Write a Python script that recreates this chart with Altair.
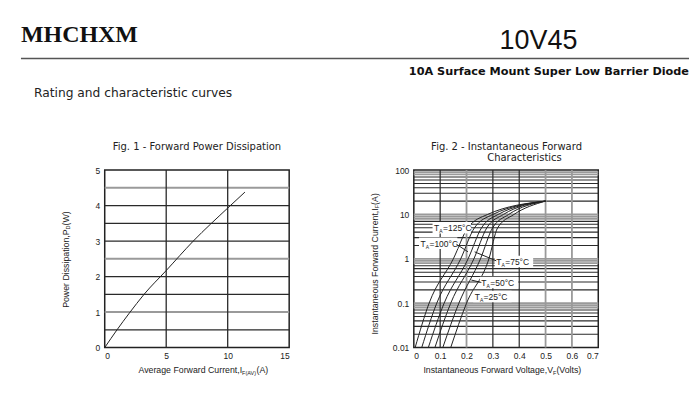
import altair as alt
import pandas as pd

# ---------------- Header texts ----------------
logo_text = "MHCHXM"
part_text = "10V45"
subtitle_text = "10A Surface Mount Super Low Barrier Diode"
section_text = "Rating and characteristic curves"

# ---------------- Fig. 1 data ----------------
f1_current = [0, 1, 2, 3.2, 5, 7.2, 10, 11.4]
f1_power = [0, 0.5, 0.97, 1.5, 2.17, 3.0, 3.93, 4.38]
f1_hgrid = [0.5, 1, 1.5, 2, 2.5, 3, 3.5, 4, 4.5]
f1_hgrid_gray = [False, True, False, False, True, False, False, False, True]
f1_vgrid = [5, 10]
f1_xticks = [0, 5, 10, 15]
f1_yticks = [0, 1, 2, 3, 4, 5]

# ---------------- Fig. 2 data ----------------
f2_levels = [0.01, 0.1, 1, 5, 10, 20]
f2_curves = [
    [0.005, 0.058, 0.150, 0.205, 0.280, 0.50],
    [0.030, 0.087, 0.178, 0.230, 0.300, 0.50],
    [0.055, 0.115, 0.206, 0.257, 0.320, 0.50],
    [0.080, 0.140, 0.228, 0.277, 0.340, 0.50],
    [0.110, 0.171, 0.253, 0.299, 0.360, 0.50],
    [0.140, 0.200, 0.285, 0.318, 0.380, 0.50],
]
f2_vgrid = [0.1, 0.2, 0.3, 0.4, 0.5, 0.6]
f2_vgrid_gray = [False, True, False, False, True, True]
f2_mult = [2, 3, 4, 5, 6, 7, 8, 9, 10]
f2_mult_gray = [8, 9, 10]
f2_decades = [0.01, 0.1, 1, 10]
f2_xticks = [0, 0.1, 0.2, 0.3, 0.4, 0.5, 0.6, 0.7]
f2_yticks = [0.01, 0.1, 1, 10, 100]
f2_labels = ["=125°C", "=100°C", "=75°C", "=50°C", "=25°C"]

W, H = 185, 178
FONT = "Liberation Sans"
WIDE = "DejaVu Sans"
DARK = "#2a2a2a"
GRAY = "#9a9a9a"


def txt(s, x, y, size=9.0, weight="normal", align="left", baseline="alphabetic",
        angle=0, color="#222222", font=FONT):
    return alt.Chart(pd.DataFrame({"t": [s]})).mark_text(
        align=align, baseline=baseline, font=font, fontSize=size,
        fontWeight=weight, angle=angle, color=color
    ).encode(x=alt.value(x), y=alt.value(y), text="t:N")


def box(x1, x2, y1, y2, fill="white", opacity=1.0):
    return alt.Chart(pd.DataFrame({"a": [0]})).mark_rect(
        fill=fill, opacity=opacity
    ).encode(x=alt.value(x1), x2=alt.value(x2), y=alt.value(y1), y2=alt.value(y2))


def seg(x1, y1, x2, y2, color="#222222", width=1.0):
    return alt.Chart(pd.DataFrame({"a": [0]})).mark_rule(
        color=color, strokeWidth=width
    ).encode(x=alt.value(x1), x2=alt.value(x2), y=alt.value(y1), y2=alt.value(y2))


# ---------------- Fig. 1 ----------------
x1s = alt.Scale(domain=[0, 15], nice=False, zero=False)
y1s = alt.Scale(domain=[0, 5], nice=False, zero=False)
x1a = alt.Axis(values=f1_xticks, title="", labelPadding=4)
y1a = alt.Axis(values=f1_yticks, title="", labelPadding=5)

f1_h = pd.DataFrame({
    "v": f1_hgrid,
    "c": [GRAY if g else DARK for g in f1_hgrid_gray],
    "w": [2.0 if g else 1.2 for g in f1_hgrid_gray],
})
f1_v = pd.DataFrame({"v": f1_vgrid})
f1_curve = pd.DataFrame({"i": f1_current, "p": f1_power})

f1_hrules = alt.Chart(f1_h).mark_rule().encode(
    y=alt.Y("v:Q", scale=y1s, axis=y1a),
    color=alt.Color("c:N", scale=None),
    strokeWidth=alt.StrokeWidth("w:Q", scale=None),
)
f1_vrules = alt.Chart(f1_v).mark_rule(color=DARK, strokeWidth=1.3).encode(
    x=alt.X("v:Q", scale=x1s, axis=x1a),
)
f1_line = alt.Chart(f1_curve).mark_line(
    color="#222222", strokeWidth=1, interpolate="monotone"
).encode(
    x=alt.X("i:Q", scale=x1s, axis=x1a),
    y=alt.Y("p:Q", scale=y1s, axis=y1a),
)

fig1 = alt.layer(
    box(-96, 588, -161, 222, fill="white", opacity=0),
    f1_hrules, f1_vrules, f1_line,
    # header
    txt(logo_text, -84, -128, size=24, weight="bold", font="Liberation Serif", color="#111111"),
    txt(part_text, 396, -121, size=27, color="#111111"),
    seg(-84, -112, 586, -112, color="#555555", width=1.5),
    txt(subtitle_text, 586, -95, size=11.3, weight="bold", align="right", color="#111111", font=WIDE),
    txt(section_text, -71, -73, size=12.3, color="#222222", font=WIDE),
    # title
    txt("Fig. 1 - Forward Power Dissipation", 92.5, -20, size=10, align="center", font=WIDE),
    # x title
    txt("Average Forward Current,I", 137.8, 204, size=8.8, align="right"),
    txt("F(AV)", 137.8, 206, size=5.5, align="left"),
    txt(" (A)", 152.2, 204, size=8.8, align="left"),
    # y title
    txt("Power Dissipation,P", -39, 59.5, size=8.8, align="right", baseline="middle", angle=270),
    txt("D", -36.5, 59.5, size=5.5, align="left", baseline="middle", angle=270),
    txt(" (W)", -39, 55.5, size=8.8, align="left", baseline="middle", angle=270),
).properties(width=W, height=H)

# ---------------- Fig. 2 ----------------
x2s = alt.Scale(domain=[0, 0.7], nice=False, zero=False)
y2s = alt.Scale(type="log", domain=[0.01, 100], nice=False)
x2a = alt.Axis(values=f2_xticks, format=".1~f", title="", labelPadding=4)
y2a = alt.Axis(values=f2_yticks, format="~g", title="", labelPadding=5)

h_vals, h_cols, h_w = [], [], []
for d in f2_decades:
    for m in f2_mult:
        v = d * m
        if v >= 100:
            continue
        gray = m in f2_mult_gray
        h_vals.append(v)
        h_cols.append(GRAY if gray else DARK)
        h_w.append(1.8 if gray else 1.1)
f2_h = pd.DataFrame({"v": h_vals, "c": h_cols, "w": h_w})
f2_v = pd.DataFrame({
    "v": f2_vgrid,
    "c": [GRAY if g else DARK for g in f2_vgrid_gray],
    "w": [1.8 if g else 1.2 for g in f2_vgrid_gray],
})
rows = []
for ci, vs in enumerate(f2_curves):
    for k, (vv, ii) in enumerate(zip(vs, f2_levels)):
        rows.append({"curve": ci, "ord": k, "v": vv, "i": ii})
f2_curve = pd.DataFrame(rows)

f2_hrules = alt.Chart(f2_h).mark_rule().encode(
    y=alt.Y("v:Q", scale=y2s, axis=y2a),
    color=alt.Color("c:N", scale=None),
    strokeWidth=alt.StrokeWidth("w:Q", scale=None),
)
f2_vrules = alt.Chart(f2_v).mark_rule().encode(
    x=alt.X("v:Q", scale=x2s, axis=x2a),
    color=alt.Color("c:N", scale=None),
    strokeWidth=alt.StrokeWidth("w:Q", scale=None),
)
f2_lines = alt.Chart(f2_curve).mark_line(
    color="#222222", strokeWidth=1, interpolate="monotone", clip=True
).encode(
    x=alt.X("v:Q", scale=x2s, axis=x2a),
    y=alt.Y("i:Q", scale=y2s, axis=y2a),
    detail="curve:N",
    order="ord:Q",
)


def tlabel(idx, x0, base):
    return [
        box(x0 - 1.5, x0 + 37, base - 9, base + 2.5),
        txt("T", x0, base, size=8.5),
        txt("A", x0 + 5.3, base + 2, size=5),
        txt(f2_labels[idx], x0 + 9, base, size=8.5),
    ]


labels = []
labels += tlabel(0, 20.3, 61)
labels += tlabel(1, 6.7, 76.7)
labels += [seg(42.7, 74.3, 54.3, 82)]
labels += tlabel(2, 82.7, 95)
labels += [seg(61, 82, 82.7, 91)]
labels += tlabel(3, 67.7, 116)
labels += [seg(57.7, 110.3, 67.7, 112.7)]
labels += tlabel(4, 61, 130)

fig2 = alt.layer(
    f2_hrules, f2_vrules, f2_lines,
    *labels,
    txt("Fig. 2 - Instantaneous Forward", 93, -20, size=10, align="center", font=WIDE),
    txt("Characteristics", 111, -9, size=10, align="center", font=WIDE),
    # x title
    txt("Instantaneous Forward Voltage,V", 139.6, 204, size=8.8, align="right"),
    txt("F", 139.6, 206, size=5.5, align="left"),
    txt(" (Volts)", 143, 204, size=8.8, align="left"),
    # y title
    txt("Instantaneous Forward Current,I", -39, 38.3, size=8.8, align="right", baseline="middle", angle=270),
    txt("F", -36.5, 38.3, size=5.5, align="left", baseline="middle", angle=270),
    txt(" (A)", -39, 34.9, size=8.8, align="left", baseline="middle", angle=270),
).properties(width=W, height=H)

chart = alt.hconcat(fig1, fig2, spacing=125, bounds="flush").properties(
    padding=0, background="white"
).configure_view(
    stroke="#222222", strokeWidth=1.5
).configure_axis(
    domain=False, ticks=False, grid=False,
    labelFont=FONT, labelFontSize=8.5, labelColor="#222222",
)

chart.save("out.html", embed_options={"renderer": "svg", "actions": False})
